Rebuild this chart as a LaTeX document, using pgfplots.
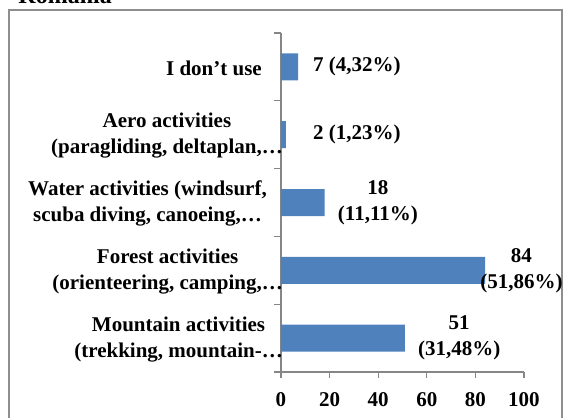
\documentclass[border=0pt]{standalone}
\usepackage{fontspec}
\setmainfont{Liberation Serif}
\usepackage{pgfplots}
\pgfplotsset{compat=1.18}
\definecolor{barblue}{HTML}{4F81BD}
\definecolor{axgray}{HTML}{868686}
\definecolor{framegray}{HTML}{8E8E8E}
\begin{document}
\begin{tikzpicture}[x=1pt,y=1pt]
\useasboundingbox (0,0) rectangle (563,-418);
\draw[framegray, line width=1.3pt] (9,-430) -- (9,-10) -- (562,-10) -- (562,-430);
\node[anchor=base east, inner sep=0pt, font=\bfseries\fontsize{24}{28}\selectfont] at (112,-3) {Romania};
\begin{axis}[
  at={(281pt,-33pt)}, anchor=north west,
  scale only axis, width=243pt, height=339pt,
  xbar, bar width=27pt,
  xmin=0, xmax=100, ymin=-0.5, ymax=4.5,
  clip=false,
  axis x line=bottom, axis y line=left,
  axis line style={-, axgray, line width=1.2pt},
  xtick={0,20,...,100},
  xtick style={draw=axgray, line width=1.2pt},
  tick align=outside,
  major tick length=6pt,
  ytick={0,1,2,3,4},
  ytick style={draw=none},
  yticklabels={
    {Mountain activities\\(trekking, mountain-…},
    {Forest activities\\(orienteering, camping,…},
    {Water activities (windsurf,\hspace*{16pt}\\scuba diving, canoeing,…\hspace*{16pt}},
    {Aero activities\\(paragliding, deltaplan,…},
    {I don’t use\hspace*{21pt}}
  },
  extra y ticks={-0.5,0.5,1.5,2.5,3.5,4.5},
  extra y tick labels={},
  extra y tick style={ytick style={draw=axgray, line width=1.2pt}, major tick length=7pt},
  yticklabel style={font=\bfseries\fontsize{21}{26}\selectfont, align=center, inner sep=0pt, anchor=east, xshift=8pt, yshift=-1pt},
  xticklabel style={font=\bfseries\fontsize{21}{26}\selectfont, yshift=-11pt},
  /pgf/number format/assume math mode=true,
]
\addplot[fill=barblue, draw=none,
  nodes near coords, point meta=explicit symbolic,
  visualization depends on={value \thisrow{dx} \as \dx},
  every node near coord/.append style={anchor=west, xshift=\dx pt, align=center, inner sep=0pt,
    font=\bfseries\fontsize{21}{26}\selectfont, text=black}]
  table[x=x, y=y, meta=lab] {
x y dx lab
51 0 13 {51\\(31,48\%)}
84 1 -5 {84\\(51,86\%)}
18 2 13 {18\\(11,11\%)}
2 3 27 {2~(1,23\%)}
7 4 15 {7~(4,32\%)}
};
\end{axis}
\end{tikzpicture}
\end{document}
